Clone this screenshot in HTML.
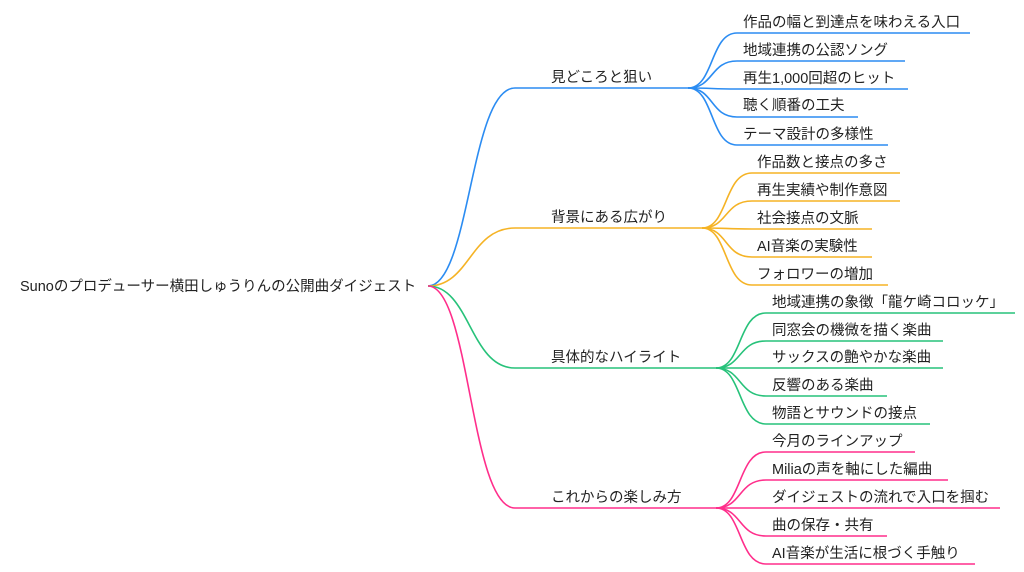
<!DOCTYPE html>
<html><head><meta charset="utf-8"><style>
html,body{margin:0;padding:0;background:#fff;}
svg{display:block;}
text{font-family:"Liberation Sans","Noto Sans CJK JP",sans-serif;font-size:14.5px;fill:#222;}
path{fill:none;stroke-width:1.6;}
</style></head><body>
<svg width="1024" height="572" viewBox="0 0 1024 572">
<text x="20" y="291">Sunoのプロデューサー横田しゅうりんの公開曲ダイジェスト</text>

<!-- blue -->
<g stroke="#2b8cf2">
<path d="M428 286 C470 286 470 88 515 88 L688 88"/>
<path d="M688 88 C714 88 710 33 737 33 L970 33"/>
<path d="M688 88 C714 88 710 61 737 61 L905 61"/>
<path d="M688 88 C714 88 710 89 737 89 L908 89"/>
<path d="M688 88 C714 88 710 117 737 117 L858 117"/>
<path d="M688 88 C714 88 710 145 737 145 L888 145"/>
</g>
<text x="551" y="82">見どころと狙い</text>
<text x="743" y="27">作品の幅と到達点を味わえる入口</text>
<text x="743" y="55">地域連携の公認ソング</text>
<text x="743" y="83">再生1,000回超のヒット</text>
<text x="743" y="110">聴く順番の工夫</text>
<text x="743" y="139">テーマ設計の多様性</text>

<!-- orange -->
<g stroke="#f5b325">
<path d="M428 286 C470 286 470 228 515 228 L702 228"/>
<path d="M702 228 C728 228 724 173 752 173 L900 173"/>
<path d="M702 228 C728 228 724 201 752 201 L900 201"/>
<path d="M702 228 C728 228 724 229 752 229 L872 229"/>
<path d="M702 228 C728 228 724 257 752 257 L872 257"/>
<path d="M702 228 C728 228 724 285 752 285 L888 285"/>
</g>
<text x="551" y="222">背景にある広がり</text>
<text x="757" y="167">作品数と接点の多さ</text>
<text x="757" y="195">再生実績や制作意図</text>
<text x="757" y="223">社会接点の文脈</text>
<text x="757" y="251">AI音楽の実験性</text>
<text x="757" y="279">フォロワーの増加</text>

<!-- green -->
<g stroke="#27c27a">
<path d="M428 286 C470 286 470 368 515 368 L716 368"/>
<path d="M716 368 C742 368 738 313 766 313 L1015 313"/>
<path d="M716 368 C742 368 738 341 766 341 L943 341"/>
<path d="M716 368 C742 368 738 368 766 368 L943 368"/>
<path d="M716 368 C742 368 738 396 766 396 L887 396"/>
<path d="M716 368 C742 368 738 424 766 424 L930 424"/>
</g>
<text x="551" y="362">具体的なハイライト</text>
<text x="772" y="307">地域連携の象徴「龍ケ崎コロッケ」</text>
<text x="772" y="335">同窓会の機微を描く楽曲</text>
<text x="772" y="362">サックスの艶やかな楽曲</text>
<text x="772" y="390">反響のある楽曲</text>
<text x="772" y="418">物語とサウンドの接点</text>

<!-- pink -->
<g stroke="#ff2e8b">
<path d="M428 286 C470 286 470 508 515 508 L716 508"/>
<path d="M716 508 C742 508 738 452 766 452 L915 452"/>
<path d="M716 508 C742 508 738 480 766 480 L948 480"/>
<path d="M716 508 C742 508 738 508 766 508 L1000 508"/>
<path d="M716 508 C742 508 738 536 766 536 L887 536"/>
<path d="M716 508 C742 508 738 564 766 564 L975 564"/>
</g>
<text x="551" y="502">これからの楽しみ方</text>
<text x="772" y="446">今月のラインアップ</text>
<text x="772" y="474">Miliaの声を軸にした編曲</text>
<text x="772" y="502">ダイジェストの流れで入口を掴む</text>
<text x="772" y="530">曲の保存・共有</text>
<text x="772" y="558">AI音楽が生活に根づく手触り</text>
</svg>
</body></html>
